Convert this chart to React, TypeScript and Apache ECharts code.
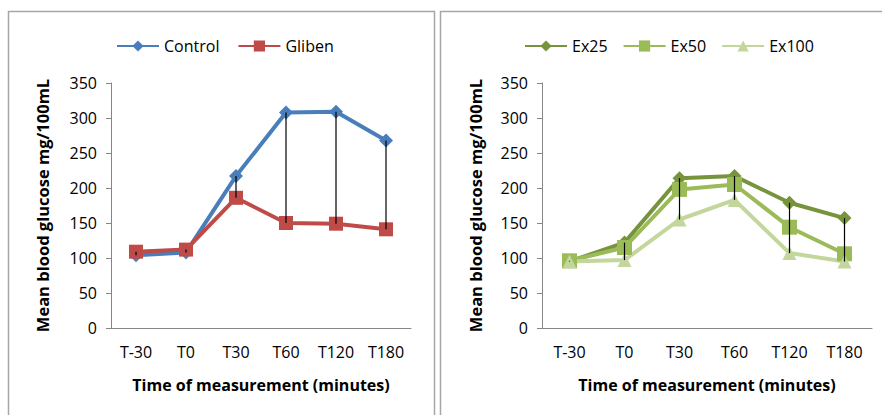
import React, { useEffect, useRef } from "react";
import * as echarts from "echarts";

const categories = ["T-30", "T0", "T30", "T60", "T120", "T180"];
const yTicks = { min: 0, max: 350, interval: 50 };

const control = [104, 108, 217, 308, 309, 268];
const gliben = [109, 112, 186, 150, 149, 141];

const ex25 = [95, 122, 214, 217, 179, 157];
const ex50 = [96, 115, 198, 205, 144, 106];
const ex100 = [95, 97, 155, 183, 107, 95];

const yTitle = "Mean blood glucose mg/100mL";
const xTitle = "Time of measurement (minutes)";

const FONT = "'Open Sans', 'Noto Sans', sans-serif";

function highLow(series: number[][]) {
  return categories.map((_, i) => {
    const vals = series.map((s) => s[i]);
    return [i, Math.max(...vals), Math.min(...vals)];
  });
}

export default function App() {
  const ref = useRef<HTMLDivElement>(null);
  useEffect(() => {
    document.body.style.margin = "0";
    const chart = echarts.init(ref.current!, null, { renderer: "svg" });

    const mkX = (gridIndex: number) => ({
      type: "category",
      gridIndex,
      data: categories,
      boundaryGap: true,
      axisLine: { lineStyle: { color: "#868686", width: 1 } },
      axisTick: { show: false },
      axisLabel: { color: "#000", fontSize: 16, fontFamily: FONT, margin: 16 },
      name: xTitle,
      nameLocation: "middle",
      nameGap: 49,
      nameTextStyle: { color: "#000", fontSize: 16, fontWeight: "bold", fontFamily: FONT },
    });
    const mkY = (gridIndex: number, gap: number) => ({
      type: "value",
      gridIndex,
      min: yTicks.min,
      max: yTicks.max,
      interval: yTicks.interval,
      axisLine: { show: true, lineStyle: { color: "#868686", width: 1 } },
      axisTick: { show: true, inside: false, length: 5, lineStyle: { color: "#868686" } },
      splitLine: { show: false },
      axisLabel: { color: "#000", fontSize: 16, fontFamily: FONT, margin: 14 },
      name: yTitle,
      nameLocation: "middle",
      nameGap: gap,
      nameTextStyle: { color: "#000", fontSize: 16.5, fontWeight: "bold", fontFamily: FONT },
    });

    const line = (
      name: string,
      data: number[],
      color: string,
      symbol: string,
      size: number,
      idx: number
    ) => ({
      type: "line",
      name,
      data,
      xAxisIndex: idx,
      yAxisIndex: idx,
      symbol,
      symbolSize: size,
      showAllSymbol: true,
      lineStyle: { color, width: 4 },
      itemStyle: { color },
      z: 2,
    });

    const hl = (data: number[][], idx: number) => ({
      type: "custom",
      xAxisIndex: idx,
      yAxisIndex: idx,
      data,
      z: 5,
      silent: true,
      renderItem: (params: any, api: any) => {
        const x = api.value(0);
        const p1 = api.coord([x, api.value(1)]);
        const p2 = api.coord([x, api.value(2)]);
        return {
          type: "line",
          shape: { x1: p1[0], y1: p1[1], x2: p2[0], y2: p2[1] },
          style: { stroke: "#000", lineWidth: 1.2 },
        };
      },
    });

    chart.setOption({
      animation: false,
      backgroundColor: "#fff",
      graphic: [
        {
          type: "rect",
          shape: { x: 8.5, y: 11.5, width: 426, height: 420 },
          style: { fill: "none", stroke: "#A6A6A6", lineWidth: 1.5 },
          silent: true,
        },
        {
          type: "rect",
          shape: { x: 440.5, y: 11.5, width: 460, height: 420 },
          style: { fill: "none", stroke: "#A6A6A6", lineWidth: 1.5 },
          silent: true,
        },
      ],
      legend: [
        {
          data: ["Control", "Gliben"],
          left: 111,
          top: 33,
          itemWidth: 42,
          itemHeight: 14,
          itemGap: 18,
          textStyle: { color: "#000", fontSize: 16, fontFamily: FONT },
        },
        {
          data: ["Ex25", "Ex50", "Ex100"],
          left: 519,
          top: 33,
          itemWidth: 42,
          itemHeight: 14,
          itemGap: 15,
          textStyle: { color: "#000", fontSize: 16, fontFamily: FONT },
        },
      ],
      grid: [
        { left: 111, top: 83, width: 300, height: 245 },
        { left: 542, top: 83, width: 330, height: 245 },
      ],
      xAxis: [mkX(0), mkX(1)],
      yAxis: [mkY(0, 60), mkY(1, 58)],
      series: [
        line("Control", control, "#4A7EBB", "diamond", 14, 0),
        line("Gliben", gliben, "#BE4B48", "rect", 14, 0),
        hl(highLow([control, gliben]), 0),
        line("Ex25", ex25, "#77933C", "diamond", 14, 1),
        line("Ex50", ex50, "#9BBB59", "rect", 15, 1),
        line("Ex100", ex100, "#C3D69B", "triangle", 14, 1),
        hl(highLow([ex25, ex50, ex100]), 1),
      ],
    });
    return () => chart.dispose();
  }, []);
  return <div ref={ref} style={{ width: 882, height: 415 }} />;
}
